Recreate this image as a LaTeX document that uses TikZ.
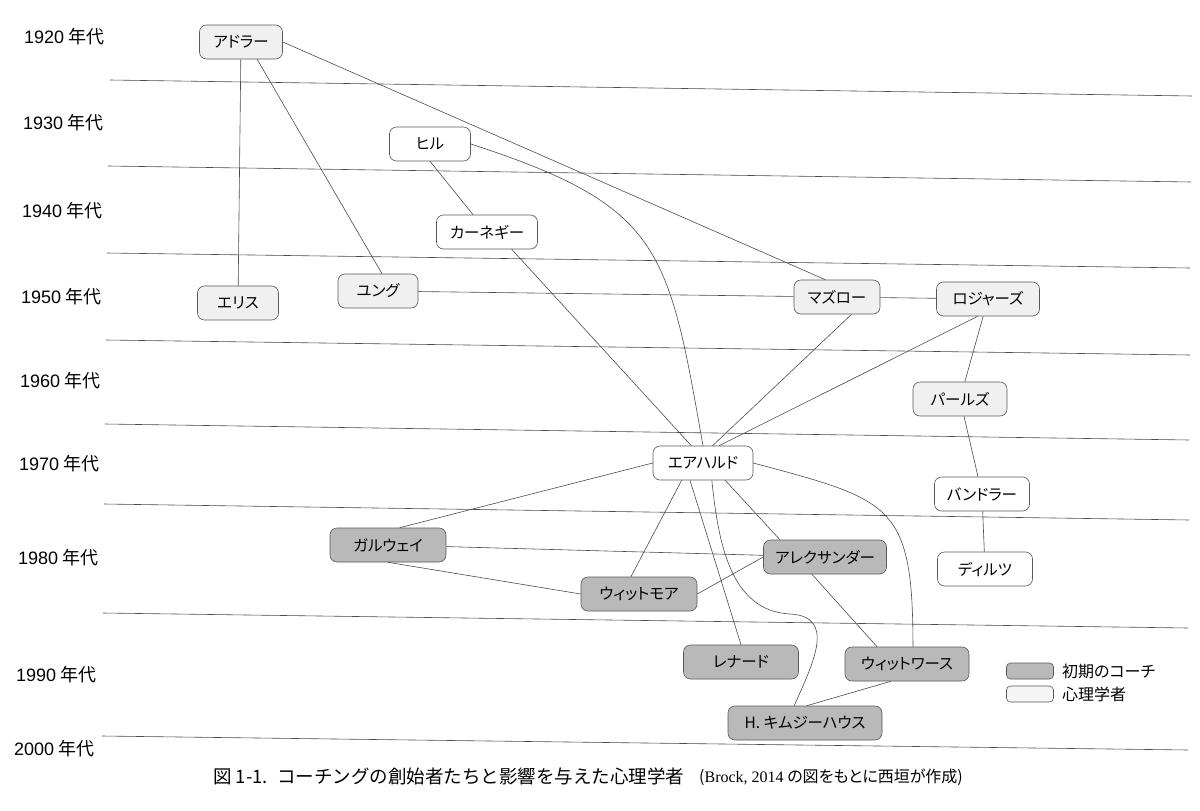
\documentclass[tikz,border=0pt]{standalone}
\usepackage{fontspec}
\setmainfont{Noto Sans CJK JP}[RawFeature={+palt}]
\newfontfamily\cjkfull{Noto Sans CJK JP}
\newfontfamily\latinserif{Liberation Serif}
\newfontfamily\latinsans{Liberation Sans}
\usepackage{tikz}
\usetikzlibrary{positioning}
\tikzset{
    personnode/.style = {draw=black!65, line width=0.6pt, rectangle, rounded corners=7pt, inner sep=0em,
      node distance=0em, minimum height=34pt, font=\fontsize{15.5}{18}\selectfont},
    psychnode/.style = {personnode, fill=gray!12},
    coachnode/.style = {personnode, fill=gray!55},
    plainnode/.style = {personnode, fill=white},
    textnode/.style  = {draw=none, fill=none, rectangle, inner sep=0em, node distance=0em},
    decadenode/.style = {textnode, anchor=west, font=\fontsize{18}{20}\selectfont},
    keynode/.style = {draw=black!65, line width=0.6pt, rectangle, rounded corners=4pt, inner sep=0em,
      node distance=0em, minimum width=47pt, minimum height=16pt},
    connect/.style = {black!70, line width=0.6pt},
    decadeline/.style = {black!70, line width=0.6pt}
}
\newcommand{\yr}[1]{{\latinsans #1} 年代}

\begin{document}
\begin{tikzpicture}[x=1pt, y=1pt]
    \fill [white] (0,0) rectangle (1200,-811);

    % decades
    \node [name = d1920, decadenode] at (24,-37) {\yr{1920}};
    \node [name = d1930, decadenode] at (23,-123) {\yr{1930}};
    \node [name = d1940, decadenode] at (22,-211) {\yr{1940}};
    \node [name = d1950, decadenode] at (21,-297) {\yr{1950}};
    \node [name = d1960, decadenode] at (20,-381) {\yr{1960}};
    \node [name = d1970, decadenode] at (19,-464) {\yr{1970}};
    \node [name = d1980, decadenode] at (18,-558) {\yr{1980}};
    \node [name = d1990, decadenode] at (16,-675) {\yr{1990}};
    \node [name = d2000, decadenode] at (14,-749) {\yr{2000}};

    \draw [decadeline] (110,-80) -- (1192,-96);
    \draw [decadeline] (108,-166) -- (1191,-182);
    \draw [decadeline] (107,-253) -- (1190,-268);
    \draw [decadeline] (106,-340) -- (1190,-355);
    \draw [decadeline] (105,-424) -- (1189,-440);
    \draw [decadeline] (104,-504) -- (1189,-520);
    \draw [decadeline] (103,-613) -- (1188,-628);
    \draw [decadeline] (102,-736) -- (1188,-750);

    % people
    \node [name = adler, psychnode, minimum width=83pt] at (241,-42) {アドラー};
    \node [name = ellis, psychnode, minimum width=81pt, right of = adler, xshift=-3pt, yshift=-261pt] {エリス};
    \node [name = jung, psychnode, minimum width=80pt, right of = ellis, xshift=140pt, yshift=12pt] {ユング};
    \node [name = hill, plainnode, minimum width=81pt, right of = adler, xshift=189pt, yshift=-102pt] {ヒル};
    \node [name = carnegie, plainnode, minimum width=101pt, right of = hill, xshift=57pt, yshift=-88pt] {カーネギー};
    \node [name = maslow, psychnode, minimum width=86pt, right of = jung, xshift=459pt, yshift=-6pt] {マズロー};
    \node [name = rogers, psychnode, minimum width=103pt, right of = maslow, xshift=151pt, yshift=-2pt] {ロジャーズ};
    \node [name = perls, psychnode, minimum width=94pt, right of = rogers, xshift=-28pt, yshift=-100pt] {パールズ};
    \node [name = bandler, plainnode, minimum width=95pt, right of = perls, xshift=22pt, yshift=-95pt] {バンドラー};
    \node [name = dilts, plainnode, minimum width=95pt, right of = bandler, xshift=3pt, yshift=-75pt] {ディルツ};
    \node [name = erhard, plainnode, minimum width=100pt, right of = carnegie, xshift=216pt, yshift=-231pt] {エアハルド};
    \node [name = galway, coachnode, minimum width=116pt, right of = erhard, xshift=-315pt, yshift=-82pt] {ガルウェイ};
    \node [name = whitmore, coachnode, minimum width=116pt, right of = galway, xshift=251pt, yshift=-49pt] {ウィットモア};
    \node [name = alexander, coachnode, minimum width=123pt, right of = erhard, xshift=122pt, yshift=-94pt] {アレクサンダー};
    \node [name = leonard, coachnode, minimum width=115pt, right of = erhard, xshift=38pt, yshift=-199pt] {レナード};
    \node [name = whitworth, coachnode, minimum width=124pt, right of = alexander, xshift=82pt, yshift=-107pt] {ウィットワース};
    \node [name = kimsey, coachnode, minimum width=154pt, right of = leonard, xshift=64pt, yshift=-61pt] {H. キムジーハウス};
    \coordinate (kbend) at (790,-614);

    % influences
    \draw [connect] (adler) edge (ellis);
    \draw [connect] (adler.-47) edge (jung.77);
    \draw [connect] (adler.east) edge (maslow.124);
    \draw [connect] (hill.south) edge (carnegie);
    \draw [connect] (hill.east) edge[out=-18, in=100, looseness=1.35] (erhard.north);
    \draw [connect] (carnegie.-35) edge (erhard.124);
    \draw [connect] (jung) edge (maslow);
    \draw [connect] (maslow) edge (rogers);
    \draw [connect] (maslow.-50) edge (erhard.61);
    \draw [connect] (rogers.-121) edge (erhard.47);
    \draw [connect] (rogers) edge (perls);
    \draw [connect] (perls) edge (bandler);
    \draw [connect] (bandler) edge (dilts);
    \draw [connect] (erhard.west) edge (galway.56);
    \draw [connect] (erhard.-141) edge (whitmore.115);
    \draw [connect] (erhard.-127) edge (leonard.north);
    \draw [connect] (erhard.-38) edge (alexander.159);
    \draw [connect] (erhard.-63) to[out=-84, in=177] (kbend) to[out=-3, in=66, looseness=1.3] (kimsey.122);
    \draw [connect] (erhard.east) edge[out=-15, in=90, looseness=1.5] (whitworth.71);
    \draw [connect] (galway) edge (alexander);
    \draw [connect] (galway.south) edge (whitmore.west);
    \draw [connect] (whitmore.east) edge (alexander.west);
    \draw [connect] (alexander.-127) edge (whitworth.150);
    \draw [connect] (whitworth.-133) edge (kimsey.84);

    % legend
    \node [name = keycoach, keynode, fill=gray!55] at (1030,-671) {};
    \node [name = keypsych, keynode, fill=gray!8, below of = keycoach, yshift=-23pt] {};
    \node [name = keycoachtext, textnode, right of = keycoach, xshift=32pt, anchor=west, font=\fontsize{16}{19}\selectfont] {初期のコーチ};
    \node [name = keypsychtext, textnode, right of = keypsych, xshift=32pt, anchor=west, font=\fontsize{16}{19}\selectfont] {心理学者};

    % caption
    \node [name = caption, textnode, anchor=west, font=\fontsize{18.5}{21}\selectfont\cjkfull] at (213,-776)
        {図 1-1.\enspace コーチングの創始者たちと影響を与えた心理学者};
    \node [name = source, textnode, anchor=west, font=\fontsize{16}{18}\selectfont] at (699,-777)
        {({\latinserif Brock, 2014} の図をもとに西垣が作成)};
\end{tikzpicture}
\end{document}
